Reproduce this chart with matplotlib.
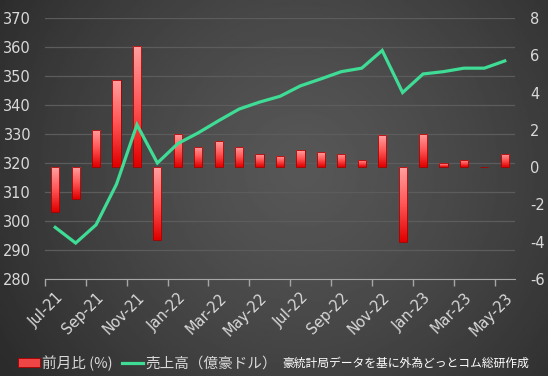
import numpy as np
import matplotlib
matplotlib.use("Agg")
import matplotlib.pyplot as plt
from matplotlib.colors import LinearSegmentedColormap
from matplotlib.patches import Rectangle
from matplotlib.lines import Line2D

plt.rcParams['font.family'] = ['DejaVu Sans', 'Noto Sans CJK JP']
plt.rcParams['axes.unicode_minus'] = False

# data
months = ['Jul-21', 'Aug-21', 'Sep-21', 'Oct-21', 'Nov-21', 'Dec-21',
          'Jan-22', 'Feb-22', 'Mar-22', 'Apr-22', 'May-22', 'Jun-22',
          'Jul-22', 'Aug-22', 'Sep-22', 'Oct-22', 'Nov-22', 'Dec-22',
          'Jan-23', 'Feb-23', 'Mar-23', 'Apr-23', 'May-23']
mom_change = [-2.4, -1.7, 2.0, 4.7, 6.5, -3.9, 1.8, 1.1, 1.4, 1.1, 0.7, 0.6,
              0.9, 0.8, 0.7, 0.4, 1.7, -4.0, 1.8, 0.2, 0.4, 0.0, 0.7]
sales = [297.8, 292.4, 298.7, 312.7, 333.2, 320.0, 326.7, 330.4, 334.6, 338.6,
         341.0, 343.0, 346.6, 349.0, 351.5, 352.7, 358.8, 344.3, 350.7, 351.5,
         352.7, 352.7, 355.2]
left_ticks = list(range(280, 371, 10))
right_ticks = list(range(-6, 9, 2))

label_color = '#d9d9d9'
line_color = '#3fdc95'

W, H = 548, 376
fig = plt.figure(figsize=(W / 100, H / 100), dpi=100)

# dark radial background
bg = fig.add_axes([0, 0, 1, 1], zorder=-10)
yy, xx = np.mgrid[0:1:200j, 0:1:300j]
r = np.sqrt(((xx - 0.55) * 1.46) ** 2 + (yy - 0.55) ** 2)
shade = 0.34 - 0.17 * np.clip(r / 0.95, 0, 1) ** 1.3
bg.imshow(shade, cmap='gray', vmin=0, vmax=1, extent=(0, 1, 0, 1),
          aspect='auto', origin='lower')
bg.set_axis_off()

rect = [45 / W, 1 - 279 / H, 470 / W, 261 / H]
ax = fig.add_axes(rect)
ax_bar = ax.twinx()
ax_line = ax.twinx()
for a in (ax, ax_bar, ax_line):
    a.set_facecolor('none')
    for s in a.spines.values():
        s.set_visible(False)

x = np.arange(len(months))

# left axis with grid
ax.set_ylim(280, 370)
ax.set_yticks(left_ticks)
ax.grid(axis='y', color='#5c5c5c', linewidth=0.9)
ax.tick_params(axis='y', length=0, pad=10, labelsize=10.5, labelcolor=label_color)
ax.set_xlim(-0.5, len(months) - 0.5)
ax.set_xticks(x[::2])
ax.set_xticklabels(months[::2], rotation=45, ha='right', rotation_mode='anchor')
ax.tick_params(axis='x', which='major', length=0, pad=8, labelsize=10.5,
               labelcolor=label_color)
ax.set_xticks(np.arange(-0.5, len(months) - 1, 2), minor=True)
ax.tick_params(axis='x', which='minor', length=5, color='#a6a6a6', width=1)
ax.spines['bottom'].set_visible(True)
ax.spines['bottom'].set_color('#a6a6a6')

# bars on right axis with vertical gradient
ax_bar.set_ylim(-6, 8)
ax_bar.set_yticks(right_ticks)
ax_bar.tick_params(axis='y', length=0, pad=11, labelsize=10.5, labelcolor=label_color)
bar_cmap = LinearSegmentedColormap.from_list('bar', ['#e00000', '#ff5555', '#ffa0a0'])
grad = np.linspace(0, 1, 64).reshape(-1, 1)
bars = ax_bar.bar(x, mom_change, width=0.4, color='none',
                  edgecolor='#a80000', linewidth=0.6, zorder=3)
for b in bars:
    x0, y0 = b.get_x(), b.get_y()
    w, h = b.get_width(), b.get_height()
    lo, hi = min(y0, y0 + h), max(y0, y0 + h)
    if hi - lo < 1e-6:
        continue
    im = ax_bar.imshow(grad, cmap=bar_cmap, extent=(x0, x0 + w, lo, hi),
                       aspect='auto', origin='lower', zorder=2)
    im.set_clip_path(b)
ax_bar.set_xlim(-0.5, len(months) - 0.5)

# sales line on top
ax_line.set_ylim(280, 370)
ax_line.plot(x, sales, color=line_color, linewidth=2.3, solid_joinstyle='miter')
ax_line.set_yticks([])
ax_line.set_xlim(-0.5, len(months) - 0.5)

# legend and source
handles = [Rectangle((0, 0), 1, 1, facecolor='#f04545', edgecolor='#a80000', linewidth=0.6),
           Line2D([0], [0], color=line_color, linewidth=2.3)]
leg = fig.legend(handles, ['前月比 (%)', '売上高（億豪ドル）'], loc='center left',
                 bbox_to_anchor=(0.033, 1 - 363 / H), ncol=2, frameon=False,
                 handlelength=1.5, handleheight=0.5, handletextpad=0.15,
                 columnspacing=0.6, borderaxespad=0, borderpad=0,
                 prop={'family': ['Noto Sans CJK JP', 'DejaVu Sans'], 'size': 10.5})
for t in leg.get_texts():
    t.set_color(label_color)
fig.text(282 / W, 1 - 363 / H, '豪統計局データを基に外為どっとコム総研作成',
         family=['Noto Sans CJK JP', 'DejaVu Sans'], fontsize=8.5,
         color='#ffffff', va='center', ha='left')

fig.savefig('out.png', dpi=100)
